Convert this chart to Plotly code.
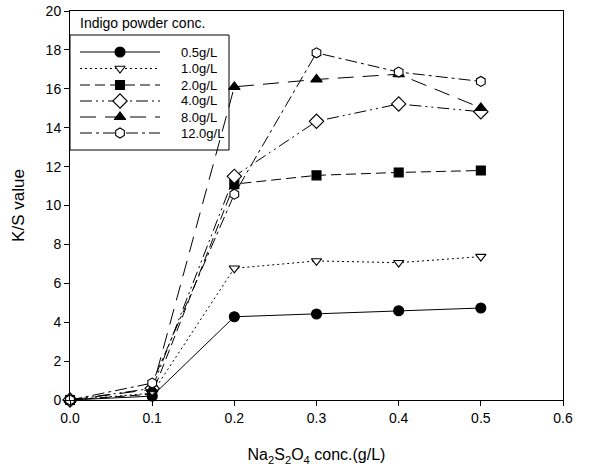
import plotly.graph_objects as go

x_vals = [0.0, 0.1, 0.2, 0.3, 0.4, 0.5]
series_names = ["0.5g/L", "1.0g/L", "2.0g/L", "4.0g/L", "8.0g/L", "12.0g/L"]
s_05 = [0.0, 0.2, 4.28, 4.42, 4.59, 4.73]
s_10 = [0.0, 0.35, 6.77, 7.15, 7.06, 7.37]
s_20 = [0.0, 0.3, 11.1, 11.55, 11.7, 11.8]
s_40 = [0.0, 0.6, 11.5, 14.33, 15.22, 14.82]
s_80 = [0.0, 0.55, 16.1, 16.48, 16.75, 15.02]
s_120 = [0.0, 0.87, 10.58, 17.85, 16.86, 16.38]
series_values = [s_05, s_10, s_20, s_40, s_80, s_120]
legend_title = "Indigo powder conc."
y_ticks = list(range(0, 21, 2))
x_ticks = [0.0, 0.1, 0.2, 0.3, 0.4, 0.5, 0.6]

styles = [
    dict(symbol="circle", fill="black", dash="solid", size=10),
    dict(symbol="triangle-down", fill="white", dash="2px,3px", size=9),
    dict(symbol="square", fill="black", dash="10px,5px", size=9),
    dict(symbol="diamond", fill="white", dash="12px,4px,2px,4px,2px,4px", size=11),
    dict(symbol="triangle-up", fill="black", dash="16px,9px", size=10),
    dict(symbol="hexagon", fill="white", dash="12px,4px,3px,4px", size=10),
]

FONT = "Liberation Sans, Arial, sans-serif"
W, H = 608, 469
L, T = 70, 11
pw, ph = 493, 389
R, B = W - L - pw, H - T - ph

fig = go.Figure()
for name, vals, st in zip(series_names, series_values, styles):
    fig.add_trace(go.Scatter(
        x=x_vals, y=vals, mode="lines+markers", name=name, showlegend=False,
        line=dict(color="black", width=1, dash=st["dash"]),
        marker=dict(symbol=st["symbol"], size=st["size"], color=st["fill"],
                    line=dict(color="black", width=1.1)),
        cliponaxis=False,
    ))

# page-pixel -> plot-area fraction
def px2fx(px):
    return (px - L) / pw

def py2fy(py):
    return (T + ph - py) / ph

row_y = [52, 68.5, 85, 101, 117, 133]
for name, st, ry in zip(series_names, styles, row_y):
    fy = py2fy(ry)
    fig.add_trace(go.Scatter(
        x=[px2fx(80), px2fx(120), px2fx(160)], y=[fy, fy, fy],
        xaxis="x2", yaxis="y2", mode="lines", showlegend=False, hoverinfo="skip",
        line=dict(color="black", width=1, dash=st["dash"]),
    ))
    fig.add_trace(go.Scatter(
        x=[px2fx(120)], y=[fy], xaxis="x2", yaxis="y2", mode="markers",
        showlegend=False, hoverinfo="skip",
        marker=dict(symbol=st["symbol"], size=st["size"], color=st["fill"],
                    line=dict(color="black", width=1.1)),
    ))
    fig.add_annotation(x=px2fx(179), y=fy, xref="paper", yref="paper", text=name,
                       showarrow=False, xanchor="left", yanchor="middle",
                       font=dict(family=FONT, size=13, color="black"))

fig.add_annotation(x=px2fx(78), y=py2fy(23), xref="paper", yref="paper", text=legend_title,
                   showarrow=False, xanchor="left", yanchor="middle",
                   font=dict(family=FONT, size=14, color="black"))

fig.add_shape(type="rect", xref="paper", yref="paper",
              x0=px2fx(70), x1=px2fx(229), y0=py2fy(150), y1=py2fy(35),
              line=dict(color="black", width=1), layer="above")

fig.update_layout(
    width=W, height=H,
    margin=dict(l=L, r=R, t=T, b=B, pad=0),
    paper_bgcolor="white", plot_bgcolor="white",
    font=dict(family=FONT, size=14, color="black"),
    xaxis=dict(range=[0, 0.6], tickvals=x_ticks, tickformat=".1f", automargin=False,
               showgrid=False, zeroline=False, showline=True, linecolor="black",
               linewidth=1, mirror=True, ticks="outside", ticklen=5,
               tickcolor="black", tickfont=dict(size=14),
               title=dict(text="Na<sub>2</sub>S<sub>2</sub>O<sub>4</sub> conc.(g/L)",
                          font=dict(size=16), standoff=24)),
    yaxis=dict(range=[0, 20], tickvals=y_ticks, automargin=False,
               showgrid=False, zeroline=False, showline=True, linecolor="black",
               linewidth=1, mirror=True, ticks="outside", ticklen=5,
               tickcolor="black", tickfont=dict(size=14),
               title=dict(text="K/S value", font=dict(size=17), standoff=16)),
    xaxis2=dict(range=[0, 1], overlaying="x", anchor="y2", automargin=False, tickvals=[],
                showline=False, showgrid=False, zeroline=False, showticklabels=False, ticks=""),
    yaxis2=dict(range=[0, 1], overlaying="y", anchor="x2", automargin=False, tickvals=[],
                showline=False, showgrid=False, zeroline=False, showticklabels=False, ticks=""),
)

fig.write_html("out.html", config={"displayModeBar": False},
               post_script="document.body.style.margin='0';document.body.style.overflow='hidden';")
